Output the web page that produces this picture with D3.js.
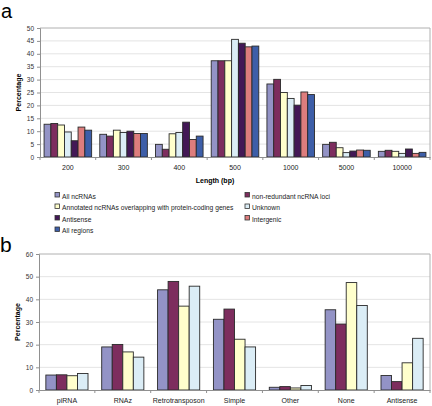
<!DOCTYPE html>
<html><head><meta charset="utf-8">
<script src="https://cdn.jsdelivr.net/npm/d3@7"></script>
<style>body{margin:0;background:#fff}svg{display:block}text{font-family:"Liberation Sans",Arial,sans-serif}</style>
</head><body><svg id="c" width="432" height="406"></svg>
<script>
const lengthCats = ["200","300","400","500","1000","5000","10000"];
const seriesA = ["All ncRNAs","non-redundant ncRNA loci","Annotated ncRNAs overlapping with protein-coding genes","Unknown","Antisense","Intergenic","All regions"];
const allNcRNAs   = [12.7, 8.8, 4.9, 37.3, 28.3, 4.9, 2.2];
const nonRedund   = [13.0, 8.1, 3.0, 37.3, 30.1, 5.7, 2.6];
const annotated   = [12.4, 10.4, 9.0, 37.3, 25.0, 3.6, 2.2];
const unknown     = [9.7, 9.5, 9.5, 45.6, 22.7, 1.7, 1.4];
const antisense   = [6.3, 10.0, 13.5, 44.1, 20.1, 2.3, 3.1];
const intergenic  = [11.6, 9.1, 6.8, 42.7, 25.2, 2.7, 1.4];
const allRegions  = [10.4, 9.1, 8.1, 43.0, 24.2, 2.6, 1.8];
const yTicksA = [0,5,10,15,20,25,30,35,40,45,50];

const annotCats = ["piRNA","RNAz","Retrotransposon","Simple","Other","None","Antisense"];
const bAll       = [6.6, 19.0, 44.2, 31.2, 1.2, 35.4, 6.4];
const bNonRed    = [6.7, 20.1, 47.9, 35.7, 1.5, 29.1, 3.7];
const bAnnotated = [6.3, 16.8, 37.0, 22.4, 0.9, 47.4, 12.0];
const bUnknown   = [7.3, 14.5, 45.8, 19.0, 2.0, 37.3, 22.8];
const yTicksB = [0,10,20,30,40,50,60];

const colors = ["#9393c6","#7d2d5e","#ffffcc","#dbedf6","#431856","#dd7d7d","#3d5ea8"];

const svg = d3.select("#c");

function panel(cfg){
  const g = svg.append("g");
  const x = d3.scaleBand().domain(cfg.cats).range([cfg.x0, cfg.x1]);
  const y = d3.scaleLinear().domain([0, cfg.ymax]).range([cfg.y1, cfg.y0]);
  g.selectAll("line.grid").data(cfg.ticks.slice(1,-1)).enter().append("line")
    .attr("x1", cfg.x0).attr("x2", cfg.x1).attr("y1", d=>y(d)).attr("y2", d=>y(d))
    .attr("stroke","#e4e4e4").attr("stroke-width",1);
  g.append("path").attr("d",`M${cfg.x0},${cfg.y0}H${cfg.x1}V${cfg.y1}`)
    .attr("fill","none").attr("stroke","#b0b0b0").attr("stroke-width",1);
  const inner = d3.scaleBand().domain(d3.range(cfg.series.length))
    .range([0, x.bandwidth()]).paddingOuter(cfg.pad).paddingInner(0);
  cfg.series.forEach((vals, si) => {
    g.selectAll(null).data(vals).enter().append("rect")
      .attr("x", (d,i)=>x(cfg.cats[i]) + inner(si))
      .attr("y", d=>y(d)).attr("width", inner.bandwidth())
      .attr("height", d=>y(0)-y(d))
      .attr("fill", colors[si]).attr("stroke","#2a2a2a").attr("stroke-width",0.9);
  });
  const ya = d3.axisLeft(y).tickValues(cfg.ticks).tickSize(3).tickPadding(3);
  const yg = g.append("g").attr("transform",`translate(${cfg.x0},0)`).call(ya);
  yg.select(".domain").attr("stroke","#909090");
  yg.selectAll(".tick line").attr("stroke","#909090");
  yg.selectAll("text").attr("font-size",6.5).attr("fill","#333");
  const xa = d3.axisBottom(x).tickSize(0).tickPadding(8);
  const xg = g.append("g").attr("transform",`translate(0,${cfg.y1})`).call(xa);
  xg.select(".domain").attr("stroke","#909090");
  xg.selectAll("text").attr("font-size",cfg.xfs).attr("fill","#222");
  g.selectAll(null).data(d3.range(cfg.cats.length+1)).enter().append("line")
    .attr("x1", i=>cfg.x0 + i*x.step()).attr("x2", i=>cfg.x0 + i*x.step())
    .attr("y1", cfg.y1).attr("y2", cfg.y1+3).attr("stroke","#909090");
  g.append("text").attr("transform",`translate(${cfg.yTitleX},${(cfg.y0+cfg.y1)/2}) rotate(-90)`)
    .attr("text-anchor","middle").attr("font-size",7).attr("font-weight","bold").text("Percentage");
  return {x,y};
}

panel({cats:lengthCats, series:[allNcRNAs,nonRedund,annotated,unknown,antisense,intergenic,allRegions],
  x0:40, x1:430, y0:28, y1:157, ymax:50, ticks:yTicksA, pad:0.6, xfs:7, yTitleX:21});
svg.append("text").attr("x",215).attr("y",183).attr("text-anchor","middle")
  .attr("font-size",7).attr("font-weight","bold").text("Length (bp)");

const legPos = [[55,196],[245,196],[55,207.5],[245,207.5],[55,219],[245,219],[55,230.5]];
seriesA.forEach((s,i)=>{
  const [lx,ly] = legPos[i];
  svg.append("rect").attr("x",lx).attr("y",ly-3.5).attr("width",4.5).attr("height",4.5)
    .attr("fill",colors[i]).attr("stroke","#333").attr("stroke-width",0.8);
  svg.append("text").attr("x",lx+7).attr("y",ly+2.5).attr("font-size",6.7).attr("fill","#222").text(s);
});

panel({cats:annotCats, series:[bAll,bNonRed,bAnnotated,bUnknown],
  x0:39, x1:430, y0:254, y1:390, ymax:60, ticks:yTicksB, pad:0.65, xfs:7, yTitleX:20});

svg.append("text").attr("x",1).attr("y",18).attr("font-size",20).attr("font-family","'DejaVu Sans',sans-serif").text("a");
svg.append("text").attr("x",0).attr("y",252).attr("font-size",21).attr("font-family","'DejaVu Sans',sans-serif").text("b");
</script></body></html>
